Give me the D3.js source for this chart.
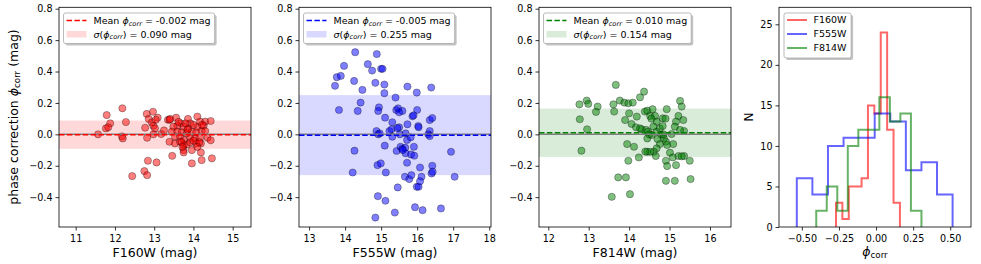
<!DOCTYPE html>
<html>
<head>
<meta charset="utf-8">
<script src="https://cdn.jsdelivr.net/npm/d3@7"></script>
<style>
  body { margin: 0; background: #fff; }
  svg { font-family: "DejaVu Sans", sans-serif; }
</style>
</head>
<body>
<div id="chart"></div>
<script>
'use strict';

// ---- data ----
var bandNames = ['F160W', 'F555W', 'F814W'];
var meanPhi = [-0.002, -0.005, 0.010];
var sigmaPhi = [0.090, 0.255, 0.154];

var f160wMag = [11.57, 11.79, 12.19, 11.88, 11.77, 11.83, 12.28, 12.18, 12.20, 12.44, 12.75, 12.82, 12.84, 13.06,
  12.81, 12.97, 12.77, 12.82, 12.86, 12.94, 12.98, 13.02, 13.09, 13.04, 12.98, 13.18, 13.25, 13.35, 13.39, 13.39,
  13.46, 13.41, 13.56, 13.68, 13.86, 13.92, 14.10, 14.17, 14.30, 14.44, 14.26, 14.10, 13.87, 13.75, 13.59, 13.49,
  13.45, 13.59, 13.70, 13.83, 13.96, 14.07, 14.21, 14.30, 13.53, 13.66, 13.76, 13.92, 14.04, 14.17, 14.36, 14.44,
  13.53, 13.66, 13.75, 13.83, 13.92, 14.07, 14.19, 13.75, 13.96, 13.75, 14.19, 14.21, 14.47, 13.96, 13.80, 14.00,
  13.70, 14.00, 13.85, 14.15, 13.62, 14.22, 13.72, 14.10];
var f160wPhi = [0.000, 0.123, 0.166, 0.070, 0.038, 0.045, 0.078, -0.013, -0.026, -0.266, -0.234, -0.260, -0.168, -0.179,
  0.130, 0.144, 0.042, -0.022, 0.098, 0.076, 0.055, 0.038, 0.106, 0.093, 0.000, 0.002, 0.025, 0.093, 0.093, -0.047,
  -0.137, 0.098, 0.106, 0.070, 0.098, 0.070, 0.113, 0.081, 0.081, 0.085, 0.055, 0.047, 0.038, 0.049, 0.055, 0.049,
  0.017, 0.017, 0.013, 0.006, 0.017, 0.013, 0.021, 0.021, -0.015, -0.015, -0.036, -0.022, -0.026, -0.022, -0.022, -0.038,
  -0.058, -0.047, -0.068, -0.064, -0.051, -0.058, -0.058, -0.100, -0.100, -0.115, -0.115, -0.164, -0.153, -0.185, 0.070, 0.060,
  -0.050, -0.040, 0.030, -0.050, 0.080, 0.060, -0.080, -0.080];

var f555wMag = [13.72, 13.77, 13.88, 13.97, 14.28, 14.88, 14.63, 14.75, 15.00, 15.04, 14.25, 14.48, 14.84, 15.09,
  15.09, 15.73, 15.99, 16.39, 13.83, 14.35, 14.43, 15.40, 14.94, 14.92, 15.11, 15.31, 15.42, 15.47, 15.59, 16.00,
  15.87, 15.90, 15.73, 16.03, 16.04, 16.35, 16.42, 16.35, 16.31, 16.35, 14.87, 14.92, 14.96, 15.23, 15.29, 15.31,
  15.50, 15.52, 15.68, 15.72, 15.82, 15.10, 15.43, 15.54, 15.59, 15.67, 15.68, 15.83, 15.91, 15.92, 15.72, 14.26,
  14.21, 14.90, 14.99, 15.13, 15.66, 15.78, 15.84, 16.08, 15.99, 16.04, 16.12, 16.08, 16.42, 16.40, 16.43, 17.04,
  16.94, 15.46, 14.91, 15.12, 14.84, 15.38, 15.94, 16.15, 16.66, 15.45, 15.60, 15.50];
var f555wPhi = [0.309, 0.364, 0.372, 0.436, 0.523, 0.511, 0.447, 0.406, 0.417, 0.417, 0.340, 0.283, 0.328, 0.317,
  0.262, 0.304, 0.266, 0.298, 0.155, 0.149, 0.202, 0.234, 0.172, 0.149, 0.106, 0.077, 0.155, 0.166, 0.149, 0.155,
  0.115, 0.121, 0.064, 0.053, 0.045, 0.091, 0.104, 0.021, 0.000, -0.011, 0.021, 0.000, 0.006, 0.021, 0.032, -0.015,
  0.045, 0.000, 0.006, -0.036, -0.019, -0.072, -0.106, -0.079, -0.092, -0.085, -0.121, -0.128, -0.079, -0.136, -0.181, -0.104,
  -0.243, -0.196, -0.185, -0.243, -0.270, -0.285, -0.260, -0.211, -0.334, -0.334, -0.270, -0.298, -0.200, -0.249, -0.238, -0.270,
  -0.111, -0.338, -0.394, -0.423, -0.530, -0.498, -0.464, -0.483, -0.472, 0.040, -0.100, 0.140];

var f814wMag = [13.67, 12.77, 12.95, 12.99, 13.22, 13.18, 12.78, 12.96, 12.82, 13.61, 13.63, 13.77, 13.88, 13.98,
  14.09, 14.27, 14.37, 13.90, 14.00, 14.06, 14.19, 14.17, 14.31, 14.39, 14.45, 14.58, 14.52, 14.64, 14.68, 14.83,
  14.93, 14.42, 14.47, 14.45, 14.56, 14.68, 14.76, 14.83, 14.80, 14.86, 14.91, 14.94, 14.76, 14.68, 14.61, 14.45,
  14.52, 14.66, 14.27, 13.95, 14.12, 14.24, 13.98, 15.05, 15.09, 15.01, 15.08, 15.22, 15.26, 15.30, 15.34, 15.36,
  15.16, 15.13, 15.26, 15.22, 15.36, 14.91, 14.94, 15.16, 15.50, 13.73, 13.92, 13.57, 14.02, 14.91, 15.13, 15.52,
  14.50, 14.70, 14.40, 14.85, 14.60, 14.55, 15.30, 14.90];
var f814wPhi = [0.315, 0.191, 0.215, 0.194, 0.177, 0.143, 0.096, 0.032, -0.104, 0.191, 0.145, 0.215, 0.202, 0.198,
  0.202, 0.236, 0.272, 0.091, 0.134, 0.066, 0.113, 0.045, 0.032, 0.145, 0.151, 0.160, 0.117, 0.117, 0.081, 0.102,
  0.160, 0.028, 0.017, -0.026, -0.004, 0.017, 0.038, 0.053, -0.004, -0.026, -0.047, -0.068, -0.062, -0.089, -0.111, -0.111,
  -0.111, -0.138, 0.038, -0.062, -0.079, -0.147, -0.168, 0.002, -0.062, -0.117, -0.147, 0.117, 0.213, 0.177, 0.091, 0.021,
  0.081, 0.049, 0.028, -0.138, -0.138, -0.168, -0.202, -0.196, -0.168, -0.274, -0.274, -0.398, -0.381, -0.296, -0.296, -0.285,
  0.000, -0.030, -0.110, 0.000, 0.050, 0.100, -0.140, 0.100];

var magValues = [f160wMag, f555wMag, f814wMag];
var phiValues = [f160wPhi, f555wPhi, f814wPhi];

// axis limits and ticks
var magLims = [[10.575, 15.467], [12.72, 18.05], [11.77, 16.52]];
var magTicks = [[11, 12, 13, 14, 15], [13, 14, 15, 16, 17, 18], [12, 13, 14, 15, 16]];
var phiLim = [-0.59, 0.809];
var phiTicks = [-0.4, -0.2, 0.0, 0.2, 0.4, 0.6, 0.8];

// histograms: [first edge, last edge] and counts in 10 equal bins
var histRanges = [[-0.270, 0.161], [-0.534, 0.516], [-0.403, 0.306]];
var histCounts = [
  [3, 1, 5, 5, 6, 15, 14, 24, 12, 3],
  [6, 4, 10, 11, 11, 14, 13, 7, 8, 4],
  [2, 5, 2, 10, 12, 12, 16, 13, 14, 2]
];
var histXLim = [-0.654, 0.640];
var histYLim = [0, 27.1];
var histXTicks = [-0.50, -0.25, 0.00, 0.25, 0.50];
var histYTicks = [0, 5, 10, 15, 20, 25];

// ---- layout ----
var width = 981, height = 264;
var panelLefts = [59, 299, 539, 779];
var panelW = 192;
var plotTop = 7.3, plotBottom = 227;
var colors = ['#ff0000', '#0000ff', '#008000'];
var tickFont = 9.6, labelFont = 12.5, legendFont = 9.5;

var svg = d3.select('#chart').append('svg')
  .attr('width', width)
  .attr('height', height);

svg.append('defs').selectAll('clipPath')
  .data(panelLefts).join('clipPath')
  .attr('id', function (d, i) { return 'clip' + i; })
  .append('rect')
  .attr('x', function (d) { return d; })
  .attr('y', plotTop)
  .attr('width', panelW)
  .attr('height', plotBottom - plotTop);

// text with italic / subscript pieces (mathtext look-alike)
function richText(sel, parts, size) {
  var shifted = false;
  parts.forEach(function (p) {
    var ts = sel.append('tspan').text(p.t);
    if (p.it) ts.attr('font-style', 'italic');
    if (p.sub) {
      ts.attr('font-size', size * 0.7);
      if (!shifted) { ts.attr('dy', size * 0.2); shifted = true; }
    } else if (shifted) {
      ts.attr('dy', -size * 0.2);
      shifted = false;
    }
  });
}

function styleAxis(g) {
  g.select('.domain').remove();
  g.selectAll('.tick line').attr('stroke', '#000').attr('stroke-width', 0.8);
  g.selectAll('.tick text').attr('font-size', tickFont).attr('fill', '#000')
    .attr('font-family', '"DejaVu Sans", sans-serif');
}

function frame(left) {
  svg.append('rect')
    .attr('x', left).attr('y', plotTop)
    .attr('width', panelW).attr('height', plotBottom - plotTop)
    .attr('fill', 'none').attr('stroke', '#000').attr('stroke-width', 0.8);
}

function legendBox(g, x0, y0, h, textNodes) {
  var right = d3.max(textNodes, function (n) { var b = n.getBBox(); return b.x + b.width; });
  var w = right - x0 + 4;
  g.insert('rect', ':first-child')
    .attr('x', x0).attr('y', y0).attr('width', w).attr('height', h)
    .attr('rx', 2).attr('fill', '#fff').attr('stroke', '#aaa').attr('stroke-width', 0.8);
  g.insert('rect', ':first-child')
    .attr('x', x0 + 2).attr('y', y0 + 2).attr('width', w).attr('height', h)
    .attr('rx', 2).attr('fill', '#888').attr('fill-opacity', 0.5);
}

// ---- scatter panels ----
function drawScatter(i) {
  var left = panelLefts[i];
  var x = d3.scaleLinear().domain(magLims[i]).range([left, left + panelW]);
  var y = d3.scaleLinear().domain(phiLim).range([plotBottom, plotTop]);
  var g = svg.append('g').attr('clip-path', 'url(#clip' + i + ')');

  // 1-sigma band around the mean
  g.append('rect')
    .attr('x', left).attr('width', panelW)
    .attr('y', y(meanPhi[i] + sigmaPhi[i]))
    .attr('height', y(meanPhi[i] - sigmaPhi[i]) - y(meanPhi[i] + sigmaPhi[i]))
    .attr('fill', colors[i]).attr('fill-opacity', 0.15);

  g.selectAll('circle')
    .data(d3.zip(magValues[i], phiValues[i]))
    .join('circle')
    .attr('cx', function (d) { return x(d[0]); })
    .attr('cy', function (d) { return y(d[1]); })
    .attr('r', 3.6)
    .attr('fill', colors[i]).attr('fill-opacity', 0.5)
    .attr('stroke', '#000').attr('stroke-opacity', 0.4).attr('stroke-width', 0.8);

  // zero line then dashed mean
  g.append('line')
    .attr('x1', left).attr('x2', left + panelW)
    .attr('y1', y(0)).attr('y2', y(0))
    .attr('stroke', '#808080').attr('stroke-width', 1.5);
  g.append('line')
    .attr('x1', left).attr('x2', left + panelW)
    .attr('y1', y(meanPhi[i])).attr('y2', y(meanPhi[i]))
    .attr('stroke', colors[i]).attr('stroke-width', 1.5)
    .attr('stroke-dasharray', '5.5,2.4');

  svg.append('g')
    .attr('transform', 'translate(0,' + plotBottom + ')')
    .call(d3.axisBottom(x).tickValues(magTicks[i]).tickFormat(d3.format('d')).tickSize(3.5).tickPadding(4.5))
    .call(styleAxis);
  svg.append('g')
    .attr('transform', 'translate(' + left + ',0)')
    .call(d3.axisLeft(y).tickValues(phiTicks).tickFormat(d3.format('.1f')).tickSize(3.5).tickPadding(3))
    .call(styleAxis);
  frame(left);

  svg.append('text')
    .attr('x', left + panelW / 2).attr('y', 257)
    .attr('text-anchor', 'middle').attr('font-size', labelFont)
    .text(bandNames[i] + ' (mag)');

  // legend
  var lg = svg.append('g');
  var lx = left + 4.5, ly = 13;
  lg.append('line')
    .attr('x1', lx + 3).attr('x2', lx + 23)
    .attr('y1', 20.6).attr('y2', 20.6)
    .attr('stroke', colors[i]).attr('stroke-width', 1.5)
    .attr('stroke-dasharray', '5.5,2.4');
  lg.append('rect')
    .attr('x', lx + 3).attr('y', 31).attr('width', 20).attr('height', 6.5)
    .attr('fill', colors[i]).attr('fill-opacity', 0.15);
  var t1 = lg.append('text').attr('x', lx + 30).attr('y', 24).attr('font-size', legendFont);
  richText(t1, [{ t: 'Mean ' }, { t: '\u03d5', it: true }, { t: 'corr', it: true, sub: true },
    { t: ' = ' + meanPhi[i].toFixed(3) + ' mag' }], legendFont);
  var t2 = lg.append('text').attr('x', lx + 30).attr('y', 37.5).attr('font-size', legendFont);
  richText(t2, [{ t: '\u03c3', it: true }, { t: '(' }, { t: '\u03d5', it: true }, { t: 'corr', it: true, sub: true },
    { t: ') = ' + sigmaPhi[i].toFixed(3) + ' mag' }], legendFont);
  legendBox(lg, lx, ly, 30.5, [t1.node(), t2.node()]);
}

[0, 1, 2].forEach(drawScatter);

var yl = svg.append('text')
  .attr('transform', 'translate(14,117) rotate(-90)')
  .attr('text-anchor', 'middle').attr('dy', '0.3em').attr('font-size', labelFont);
richText(yl, [{ t: 'phase correction ' }, { t: '\u03d5', it: true }, { t: 'corr', sub: true }, { t: ' (mag)' }], labelFont);

// ---- histogram panel ----
(function () {
  var left = panelLefts[3];
  var x = d3.scaleLinear().domain(histXLim).range([left, left + panelW]);
  var y = d3.scaleLinear().domain(histYLim).range([plotBottom, plotTop]);
  var g = svg.append('g').attr('clip-path', 'url(#clip3)');

  histCounts.forEach(function (counts, i) {
    var lo = histRanges[i][0], hi = histRanges[i][1];
    var step = (hi - lo) / counts.length;
    var pts = [[lo, 0]];
    counts.forEach(function (c, k) {
      pts.push([lo + k * step, c]);
      pts.push([lo + (k + 1) * step, c]);
    });
    pts.push([hi, 0]);
    g.append('path')
      .attr('d', d3.line().x(function (d) { return x(d[0]); }).y(function (d) { return y(d[1]); })(pts))
      .attr('fill', 'none')
      .attr('stroke', colors[i]).attr('stroke-opacity', 0.6).attr('stroke-width', 2);
  });

  svg.append('g')
    .attr('transform', 'translate(0,' + plotBottom + ')')
    .call(d3.axisBottom(x).tickValues(histXTicks).tickFormat(d3.format('.2f')).tickSize(3.5).tickPadding(4.5))
    .call(styleAxis);
  svg.append('g')
    .attr('transform', 'translate(' + left + ',0)')
    .call(d3.axisLeft(y).tickValues(histYTicks).tickFormat(d3.format('d')).tickSize(3.5).tickPadding(3))
    .call(styleAxis);
  frame(left);

  var xl = svg.append('text')
    .attr('x', left + panelW / 2).attr('y', 255.5)
    .attr('text-anchor', 'middle').attr('font-size', labelFont);
  richText(xl, [{ t: '\u03d5', it: true }, { t: 'corr', sub: true }], labelFont);

  svg.append('text')
    .attr('transform', 'translate(749,117) rotate(-90)')
    .attr('text-anchor', 'middle').attr('dy', '0.35em').attr('font-size', labelFont)
    .text('N');

  var lg = svg.append('g');
  var texts = [];
  bandNames.forEach(function (name, i) {
    var ry = 20 + i * 14;
    lg.append('line')
      .attr('x1', 787).attr('x2', 807).attr('y1', ry).attr('y2', ry)
      .attr('stroke', colors[i]).attr('stroke-opacity', 0.6).attr('stroke-width', 2);
    texts.push(lg.append('text')
      .attr('x', 813.5).attr('y', ry + 3.4).attr('font-size', legendFont)
      .text(name).node());
  });
  legendBox(lg, 784, 13, 45, texts);
})();
</script>
</body>
</html>
